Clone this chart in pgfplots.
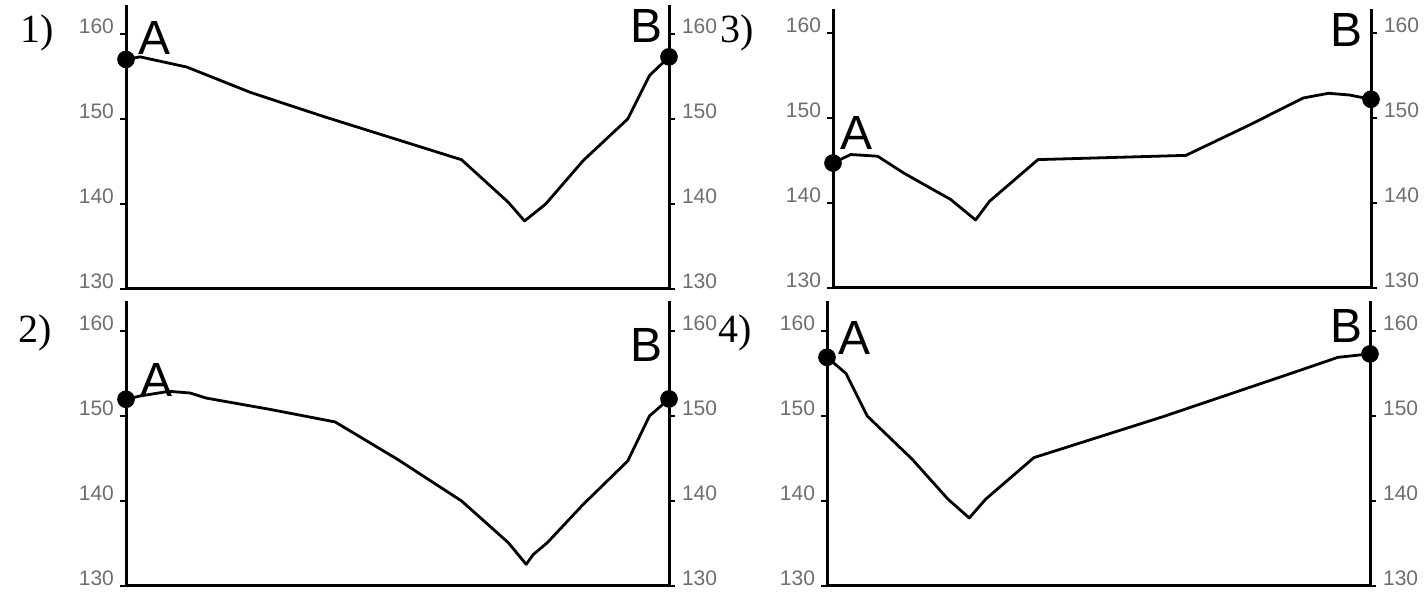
\documentclass[border=0pt]{standalone}
\usepackage{fontspec}
\setmainfont{Liberation Sans}
\newfontfamily\serif{Liberation Serif}
\usepackage{pgfplots}
\pgfplotsset{compat=1.18}
\definecolor{tickgray}{HTML}{6E6E6E}
\pgfplotsset{
  panel/.style={anchor=south west, scale only axis, xmin=0, xmax=100, ymin=130,
    ytick={130,140,150,160}, xtick=\empty, axis line style={draw=none},
    tick align=outside, major tick length=3pt, tick style={black, line width=1pt},
    /pgf/number format/assume math mode=true,
    clip=false},
  leftside/.style={panel, ytick pos=left,
    yticklabel style={font=\fontsize{10.5}{10.5}\selectfont, text=tickgray, anchor=base east, yshift=0pt, xshift=0.5pt}},
  rightside/.style={panel, ytick pos=right, yticklabel pos=right,
    yticklabel style={font=\fontsize{10.5}{10.5}\selectfont, text=tickgray, anchor=base west, yshift=0pt, xshift=0pt}},
  curve/.style={black, line width=1.4pt, line join=round, no marks},
  ends/.style={only marks, mark=*, mark size=4.2pt, black},
}
\newcommand{\panelframe}{\draw[black, line width=1.5pt, line join=miter] (rel axis cs:0,1) -- (rel axis cs:0,0) -- (rel axis cs:1,0) -- (rel axis cs:1,1);}
\newcommand{\lab}[1]{\fontsize{24}{24}\selectfont #1}
\newcommand{\pnum}[1]{\serif\fontsize{20}{20}\selectfont #1}
\begin{document}
\begin{tikzpicture}
\useasboundingbox (0,0) rectangle (713pt,297.5pt);
% Panel 1
\begin{axis}[leftside, at={(63pt,153pt)}, width=271.5pt, height=142pt, ymax=163.4]
\addplot[curve] coordinates {(0,157.0) (2.6,157.3) (11.2,156.1) (23.0,153.1) (36.8,150.2) (51.3,147.3) (61.8,145.2) (70.4,140.2) (73.4,138.0) (77.3,140.0) (84.2,145.1) (92.4,150.0) (96.4,155.1) (100,157.3)};
\addplot[ends] coordinates {(0,157.0) (100,157.3)};
\panelframe
\end{axis}
\begin{axis}[rightside, at={(63pt,153pt)}, width=271.5pt, height=142pt, ymax=163.4]
\end{axis}
% Panel 2
\begin{axis}[leftside, at={(63pt,4.5pt)}, width=271.5pt, height=142.4pt, ymax=163.5]
\addplot[curve] coordinates {(0,151.96) (2.6,152.35) (7.9,152.9) (11.8,152.7) (14.8,152.1) (26.3,150.8) (38.5,149.3) (50.0,144.9) (61.8,140.0) (70.4,135.1) (73.7,132.55) (75.0,133.7) (77.6,135.1) (84.2,139.6) (92.4,144.7) (96.4,150.0) (100,152.0)};
\addplot[ends] coordinates {(0,151.96) (100,152.0)};
\panelframe
\end{axis}
\begin{axis}[rightside, at={(63pt,4.5pt)}, width=271.5pt, height=142.4pt, ymax=163.5]
\end{axis}
% Panel 3
\begin{axis}[leftside, at={(416.5pt,153.5pt)}, width=269pt, height=139.4pt, ymax=162.8]
\addplot[curve] coordinates {(0,144.7) (3.3,145.7) (8.3,145.5) (13.2,143.5) (21.9,140.4) (26.5,138.0) (29.1,140.2) (38.1,145.1) (65.6,145.6) (77.5,149.2) (87.4,152.35) (92.1,152.9) (96.0,152.7) (100,152.2)};
\addplot[ends] coordinates {(0,144.7) (100,152.2)};
\panelframe
\end{axis}
\begin{axis}[rightside, at={(416.5pt,153.5pt)}, width=269pt, height=139.4pt, ymax=162.8]
\end{axis}
% Panel 4
\begin{axis}[leftside, at={(413.5pt,4.5pt)}, width=271.5pt, height=142.4pt, ymax=163.5]
\addplot[curve] coordinates {(0,156.9) (3.5,155.0) (7.4,150.0) (15.7,144.9) (22.3,140.2) (26.2,138.0) (29.2,140.2) (38.1,145.1) (61.8,149.9) (86.8,155.3) (94.1,156.9) (100,157.3)};
\addplot[ends] coordinates {(0,156.9) (100,157.3)};
\panelframe
\end{axis}
\begin{axis}[rightside, at={(413.5pt,4.5pt)}, width=271.5pt, height=142.4pt, ymax=163.5]
\end{axis}
% labels A / B
\node[anchor=base west, inner sep=0] at (69pt,270pt) {\lab{A}};
\node[anchor=base west, inner sep=0] at (315pt,276pt) {\lab{B}};
\node[anchor=base west, inner sep=0] at (70pt,99pt) {\lab{A}};
\node[anchor=base west, inner sep=0] at (315pt,116.5pt) {\lab{B}};
\node[anchor=base west, inner sep=0] at (420pt,222.5pt) {\lab{A}};
\node[anchor=base west, inner sep=0] at (665pt,274pt) {\lab{B}};
\node[anchor=base west, inner sep=0] at (419pt,120pt) {\lab{A}};
\node[anchor=base west, inner sep=0] at (665pt,126pt) {\lab{B}};
% panel numbers
\node[anchor=base west, inner sep=0] at (10pt,276pt) {\pnum{1)}};
\node[anchor=base west, inner sep=0] at (9pt,126pt) {\pnum{2)}};
\node[anchor=base west, inner sep=0] at (360pt,276pt) {\pnum{3)}};
\node[anchor=base west, inner sep=0] at (359pt,126pt) {\pnum{4)}};
\end{tikzpicture}
\end{document}
